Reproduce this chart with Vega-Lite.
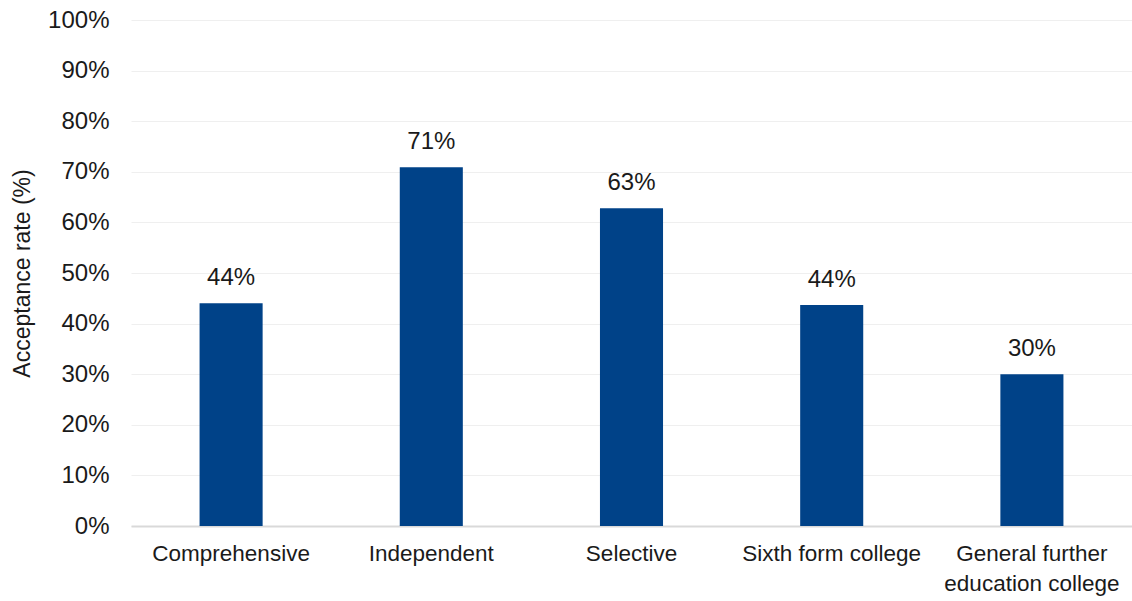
{
  "$schema": "https://vega.github.io/schema/vega-lite/v6.json",
  "autosize": "none",
  "width": 1001,
  "height": 506,
  "padding": {"left": 131, "top": 20, "right": 0, "bottom": 75},
  "background": "white",
  "config": {
    "view": {"stroke": null},
    "font": "Liberation Sans"
  },
  "data": {
    "values": [
      {"type": "Comprehensive", "rate": 0.44, "label": "44%"},
      {"type": "Independent", "rate": 0.709, "label": "71%"},
      {"type": "Selective", "rate": 0.628, "label": "63%"},
      {"type": "Sixth form college", "rate": 0.437, "label": "44%"},
      {"type": "General further education college", "rate": 0.30, "label": "30%"}
    ]
  },
  "encoding": {
    "x": {
      "field": "type",
      "type": "nominal",
      "sort": null,
      "scale": {"paddingInner": 0.685, "paddingOuter": 0.3425},
      "axis": {
        "title": null,
        "labelAngle": 0,
        "labelFontSize": 22.5,
        "labelColor": "#1a1a1a",
        "labelPadding": 16,
        "labelLineHeight": 30,
        "labelExpr": "datum.label == 'General further education college' ? ['General further', 'education college'] : datum.label",
        "ticks": false,
        "domainColor": "#d9d9d9",
        "domainWidth": 2
      }
    },
    "y": {
      "field": "rate",
      "type": "quantitative",
      "scale": {"domain": [0, 1]},
      "axis": {
        "title": "Acceptance rate (%)",
        "titleFontSize": 23,
        "titleFontWeight": "normal",
        "titleColor": "#1a1a1a",
        "titlePadding": 13,
        "format": ".0%",
        "tickCount": 10,
        "labelFontSize": 24,
        "labelColor": "#1a1a1a",
        "labelPadding": 22,
        "ticks": false,
        "domain": false,
        "gridColor": "#efefef",
        "gridWidth": 1
      }
    }
  },
  "layer": [
    {"mark": {"type": "bar", "color": "#004288"}},
    {
      "mark": {"type": "text", "dy": -25, "fontSize": 24, "color": "#1a1a1a"},
      "encoding": {"text": {"field": "label"}}
    }
  ]
}
